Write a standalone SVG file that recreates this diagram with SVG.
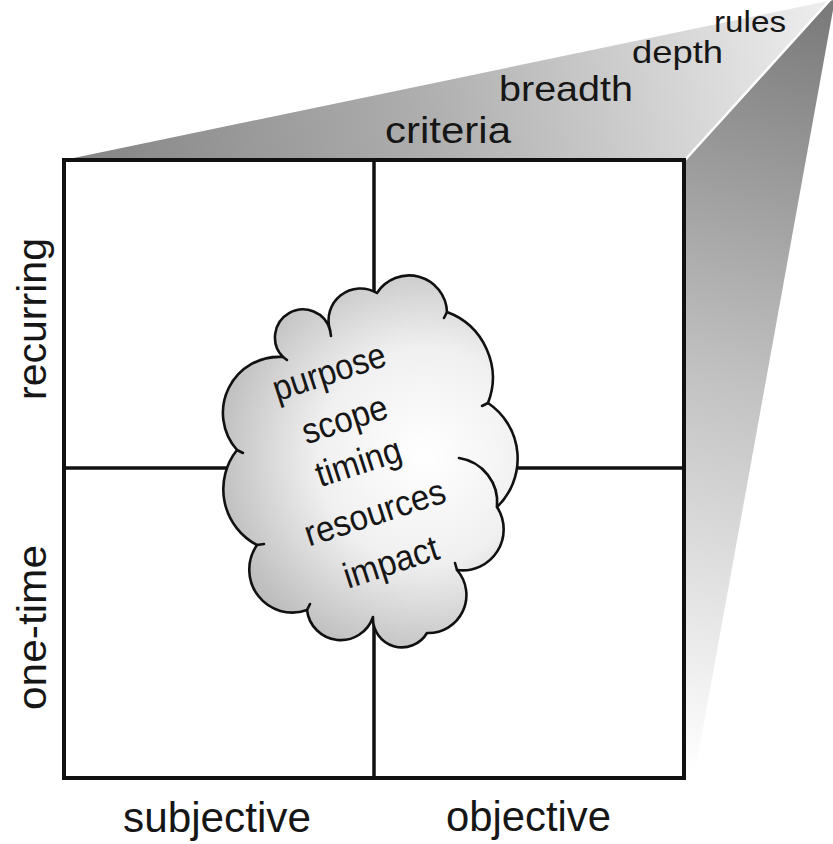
<svg xmlns="http://www.w3.org/2000/svg" width="833" height="844" viewBox="0 0 833 844">
  <defs>
    <linearGradient id="topFace" gradientUnits="userSpaceOnUse" x1="64" y1="160" x2="833" y2="0">
      <stop offset="0" stop-color="#848484"/>
      <stop offset="0.45" stop-color="#adadad"/>
      <stop offset="1" stop-color="#efefef"/>
    </linearGradient>
    <linearGradient id="sideFace" gradientUnits="userSpaceOnUse" x1="833" y1="10" x2="640" y2="760">
      <stop offset="0" stop-color="#7a7a7a"/>
      <stop offset="0.5" stop-color="#c2c2c2"/>
      <stop offset="1" stop-color="#ffffff"/>
    </linearGradient>
    <radialGradient id="cloudFill" gradientUnits="userSpaceOnUse" cx="425" cy="455" r="215">
      <stop offset="0" stop-color="#ffffff"/>
      <stop offset="0.5" stop-color="#f0f0f0"/>
      <stop offset="1" stop-color="#bcbcbc"/>
    </radialGradient>
    <style>
      .lbl { font-family: "Liberation Sans", Arial, sans-serif; fill: #161616; }
      .grid { fill: none; stroke: #111; stroke-linecap: square; }
      .cloud { stroke: #111; stroke-width: 2.6; stroke-linejoin: round; stroke-linecap: round; }
    </style>
  </defs>

  <rect width="833" height="844" fill="#ffffff"/>

  <!-- perspective faces behind the matrix -->
  <g id="faces">
    <polygon points="64,160 685,160 828,2 833,0" fill="url(#topFace)"/>
    <polygon points="685,160 828,2 833,0 833,10 694,778 685,778" fill="url(#sideFace)"/>
    <line x1="685" y1="160" x2="830" y2="0" stroke="#ffffff" stroke-width="2.5"/>
  </g>

  <!-- depth labels on the top face -->
  <g id="depth-labels">
    <text class="lbl" x="385" y="143" font-size="37" textLength="126" lengthAdjust="spacingAndGlyphs">criteria</text>
    <text class="lbl" x="499" y="101" font-size="35" textLength="134" lengthAdjust="spacingAndGlyphs">breadth</text>
    <text class="lbl" x="632" y="63" font-size="32" textLength="91" lengthAdjust="spacingAndGlyphs">depth</text>
    <text class="lbl" x="714" y="32" font-size="29" textLength="72" lengthAdjust="spacingAndGlyphs">rules</text>
  </g>

  <!-- 2x2 matrix -->
  <g id="matrix">
    <rect x="64" y="160" width="620" height="618" fill="#ffffff"/>
    <line class="grid" x1="64" y1="468" x2="684" y2="468" stroke-width="3.5"/>
    <line class="grid" x1="374" y1="160" x2="374" y2="778" stroke-width="3.5"/>
    <rect class="grid" x="64" y="160" width="620" height="618" stroke-width="4"/>
  </g>

  <!-- central cloud -->
  <g id="cloud">
    <path class="cloud" fill="url(#cloudFill)" d="M377,293
      A38,38 0 0 1 447,312
      A70,70 0 0 1 488,403
      A67,67 0 0 1 497,507
      A41,41 0 0 1 457,570
      A38,38 0 0 1 427,633
      A29,29 0 0 1 373,617
      A34,34 0 0 1 307,610
      A43,43 0 0 1 257,545
      A63,63 0 0 1 237,450
      A56,56 0 0 1 283,357
      A28,28 0 1 1 330,330
      A32,32 0 0 1 377,293 Z"/>
    <g class="cloud" fill="none">
      <path d="M459,458 A45,45 0 0 1 497,507"/>
      <path d="M447,312 l-3,6"/>
      <path d="M488,403 l-6,3"/>
      <path d="M457,570 l-2,-7"/>
      <path d="M307,610 l3,-6"/>
      <path d="M257,545 l7,-1"/>
      <path d="M237,450 l6,3"/>
      <path d="M283,357 l4,3"/>
      <path d="M330,330 l1,6"/>
    </g>
    <g transform="translate(360,467) rotate(-18)" font-size="36" text-anchor="middle">
      <text class="lbl" x="0" y="-88" textLength="117" lengthAdjust="spacingAndGlyphs">purpose</text>
      <text class="lbl" x="0" y="-38" textLength="88" lengthAdjust="spacingAndGlyphs">scope</text>
      <text class="lbl" x="0" y="7" textLength="88" lengthAdjust="spacingAndGlyphs">timing</text>
      <text class="lbl" x="0" y="60" textLength="146" lengthAdjust="spacingAndGlyphs">resources</text>
      <text class="lbl" x="0" y="112" textLength="98" lengthAdjust="spacingAndGlyphs">impact</text>
    </g>
  </g>

  <!-- axis labels -->
  <g id="axis-labels">
    <text class="lbl" x="123" y="832" font-size="42" textLength="188" lengthAdjust="spacingAndGlyphs">subjective</text>
    <text class="lbl" x="446" y="831" font-size="42" textLength="165" lengthAdjust="spacingAndGlyphs">objective</text>
    <text class="lbl" transform="translate(46,400) rotate(-90)" font-size="40" textLength="162" lengthAdjust="spacingAndGlyphs">recurring</text>
    <text class="lbl" transform="translate(46,710) rotate(-90)" font-size="40" textLength="165" lengthAdjust="spacingAndGlyphs">one-time</text>
  </g>
</svg>
